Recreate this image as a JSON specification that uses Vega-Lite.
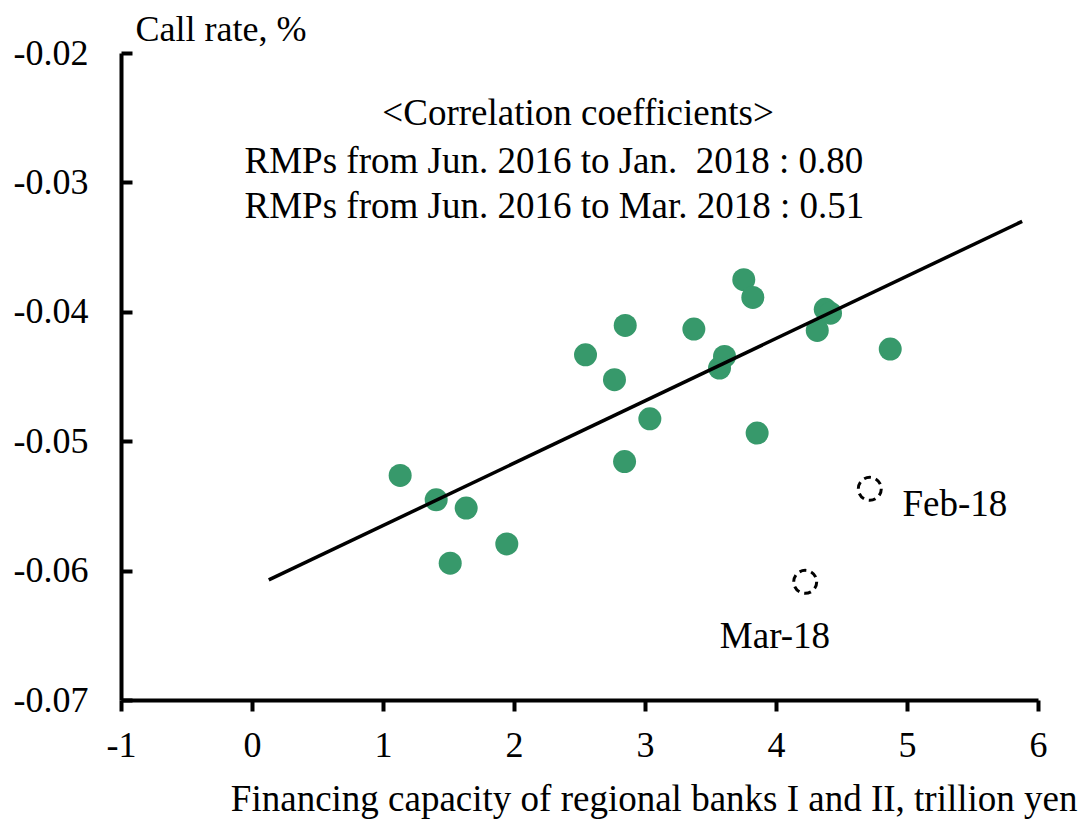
{
  "$schema": "https://vega.github.io/schema/vega-lite/v6.json",
  "width": 917,
  "height": 647,
  "autosize": {"type": "none"},
  "padding": {"left": 121, "top": 53, "right": 43, "bottom": 119},
  "background": "white",
  "config": {
    "view": {"stroke": null},
    "font": "Liberation Serif",
    "axis": {
      "grid": false,
      "labelFlush": false,
      "labelOverlap": false,
      "domainColor": "black",
      "domainWidth": 4,
      "tickColor": "black",
      "tickWidth": 4,
      "labelFont": "Liberation Serif",
      "labelFontSize": 36,
      "labelColor": "black",
      "titleFont": "Liberation Serif",
      "titleFontSize": 36,
      "titleFontWeight": "normal",
      "titleColor": "black"
    }
  },
  "datasets": {
    "points": [
      {"x": 1.131, "y": -0.05265},
      {"x": 1.406, "y": -0.05453},
      {"x": 1.635, "y": -0.05517},
      {"x": 1.513, "y": -0.05943},
      {"x": 1.945, "y": -0.05794},
      {"x": 2.546, "y": -0.04332},
      {"x": 2.767, "y": -0.04525},
      {"x": 2.849, "y": -0.04105},
      {"x": 2.844, "y": -0.05157},
      {"x": 3.037, "y": -0.04827},
      {"x": 3.373, "y": -0.04133},
      {"x": 3.569, "y": -0.04435},
      {"x": 3.607, "y": -0.04345},
      {"x": 3.754, "y": -0.03752},
      {"x": 3.823, "y": -0.03889},
      {"x": 3.856, "y": -0.04937},
      {"x": 4.315, "y": -0.04144},
      {"x": 4.376, "y": -0.03981},
      {"x": 4.416, "y": -0.04011},
      {"x": 4.872, "y": -0.04288}
    ],
    "outliers": [
      {"x": 4.716, "y": -0.05368, "label": "Feb-18"},
      {"x": 4.223, "y": -0.06087, "label": "Mar-18"}
    ],
    "fit": [
      {"x": 0.128, "y": -0.06072},
      {"x": 5.879, "y": -0.03301}
    ],
    "notes_left": [
      {"x": -0.057, "y": -0.02924, "text": "RMPs from Jun. 2016 to Jan.\u00a0 2018 : 0.80"},
      {"x": -0.057, "y": -0.03272, "text": "RMPs from Jun. 2016 to Mar. 2018 : 0.51"}
    ],
    "notes_center": [
      {"x": 2.489, "y": -0.02553, "text": "<Correlation coefficients>"},
      {"x": 3.992, "y": -0.06598, "text": "Mar-18"}
    ],
    "notes_feb": [
      {"x": 4.966, "y": -0.05577, "text": "Feb-18"}
    ]
  },
  "encoding": {
    "x": {
      "field": "x",
      "type": "quantitative",
      "scale": {"domain": [-1, 6], "nice": false, "zero": false},
      "axis": {
        "values": [-1, 0, 1, 2, 3, 4, 5, 6],
        "tickSize": 11,
        "labelPadding": 17,
        "labelExpr": "replace(format(datum.value, 'd'), '\u2212', '-')",
        "title": "Financing capacity of regional banks I and II, trillion yen",
        "titleFontSize": 37,
        "titleAnchor": null,
        "titleAlign": "right",
        "titleBaseline": "alphabetic",
        "titleX": 956,
        "titleY": 110
      }
    },
    "y": {
      "field": "y",
      "type": "quantitative",
      "scale": {"domain": [-0.07, -0.02], "nice": false, "zero": false},
      "axis": {
        "values": [-0.07, -0.06, -0.05, -0.04, -0.03, -0.02],
        "tickSize": -11,
        "labelPadding": 44,
        "labelExpr": "replace(format(datum.value, '.2f'), '\u2212', '-')",
        "title": "Call rate, %",
        "titleAngle": 0,
        "titleAnchor": null,
        "titleAlign": "left",
        "titleBaseline": "alphabetic",
        "titleX": 14,
        "titleY": -13
      }
    }
  },
  "layer": [
    {
      "data": {"name": "points"},
      "mark": {"type": "point", "shape": "circle", "filled": true, "size": 529, "color": "#37996B", "opacity": 1}
    },
    {
      "data": {"name": "outliers"},
      "mark": {"type": "point", "shape": "circle", "filled": false, "size": 529, "stroke": "black", "strokeWidth": 3, "strokeDash": [7, 5], "opacity": 1}
    },
    {
      "data": {"name": "fit"},
      "mark": {"type": "line", "color": "black", "strokeWidth": 3.5}
    },
    {
      "data": {"name": "notes_left"},
      "mark": {"type": "text", "align": "left", "baseline": "alphabetic", "fontSize": 37, "font": "Liberation Serif", "color": "black"},
      "encoding": {"text": {"field": "text"}}
    },
    {
      "data": {"name": "notes_center"},
      "mark": {"type": "text", "align": "center", "baseline": "alphabetic", "fontSize": 37, "font": "Liberation Serif", "color": "black"},
      "encoding": {"text": {"field": "text"}}
    },
    {
      "data": {"name": "notes_feb"},
      "mark": {"type": "text", "align": "left", "baseline": "alphabetic", "fontSize": 37, "font": "Liberation Serif", "color": "black"},
      "encoding": {"text": {"field": "text"}}
    }
  ]
}
